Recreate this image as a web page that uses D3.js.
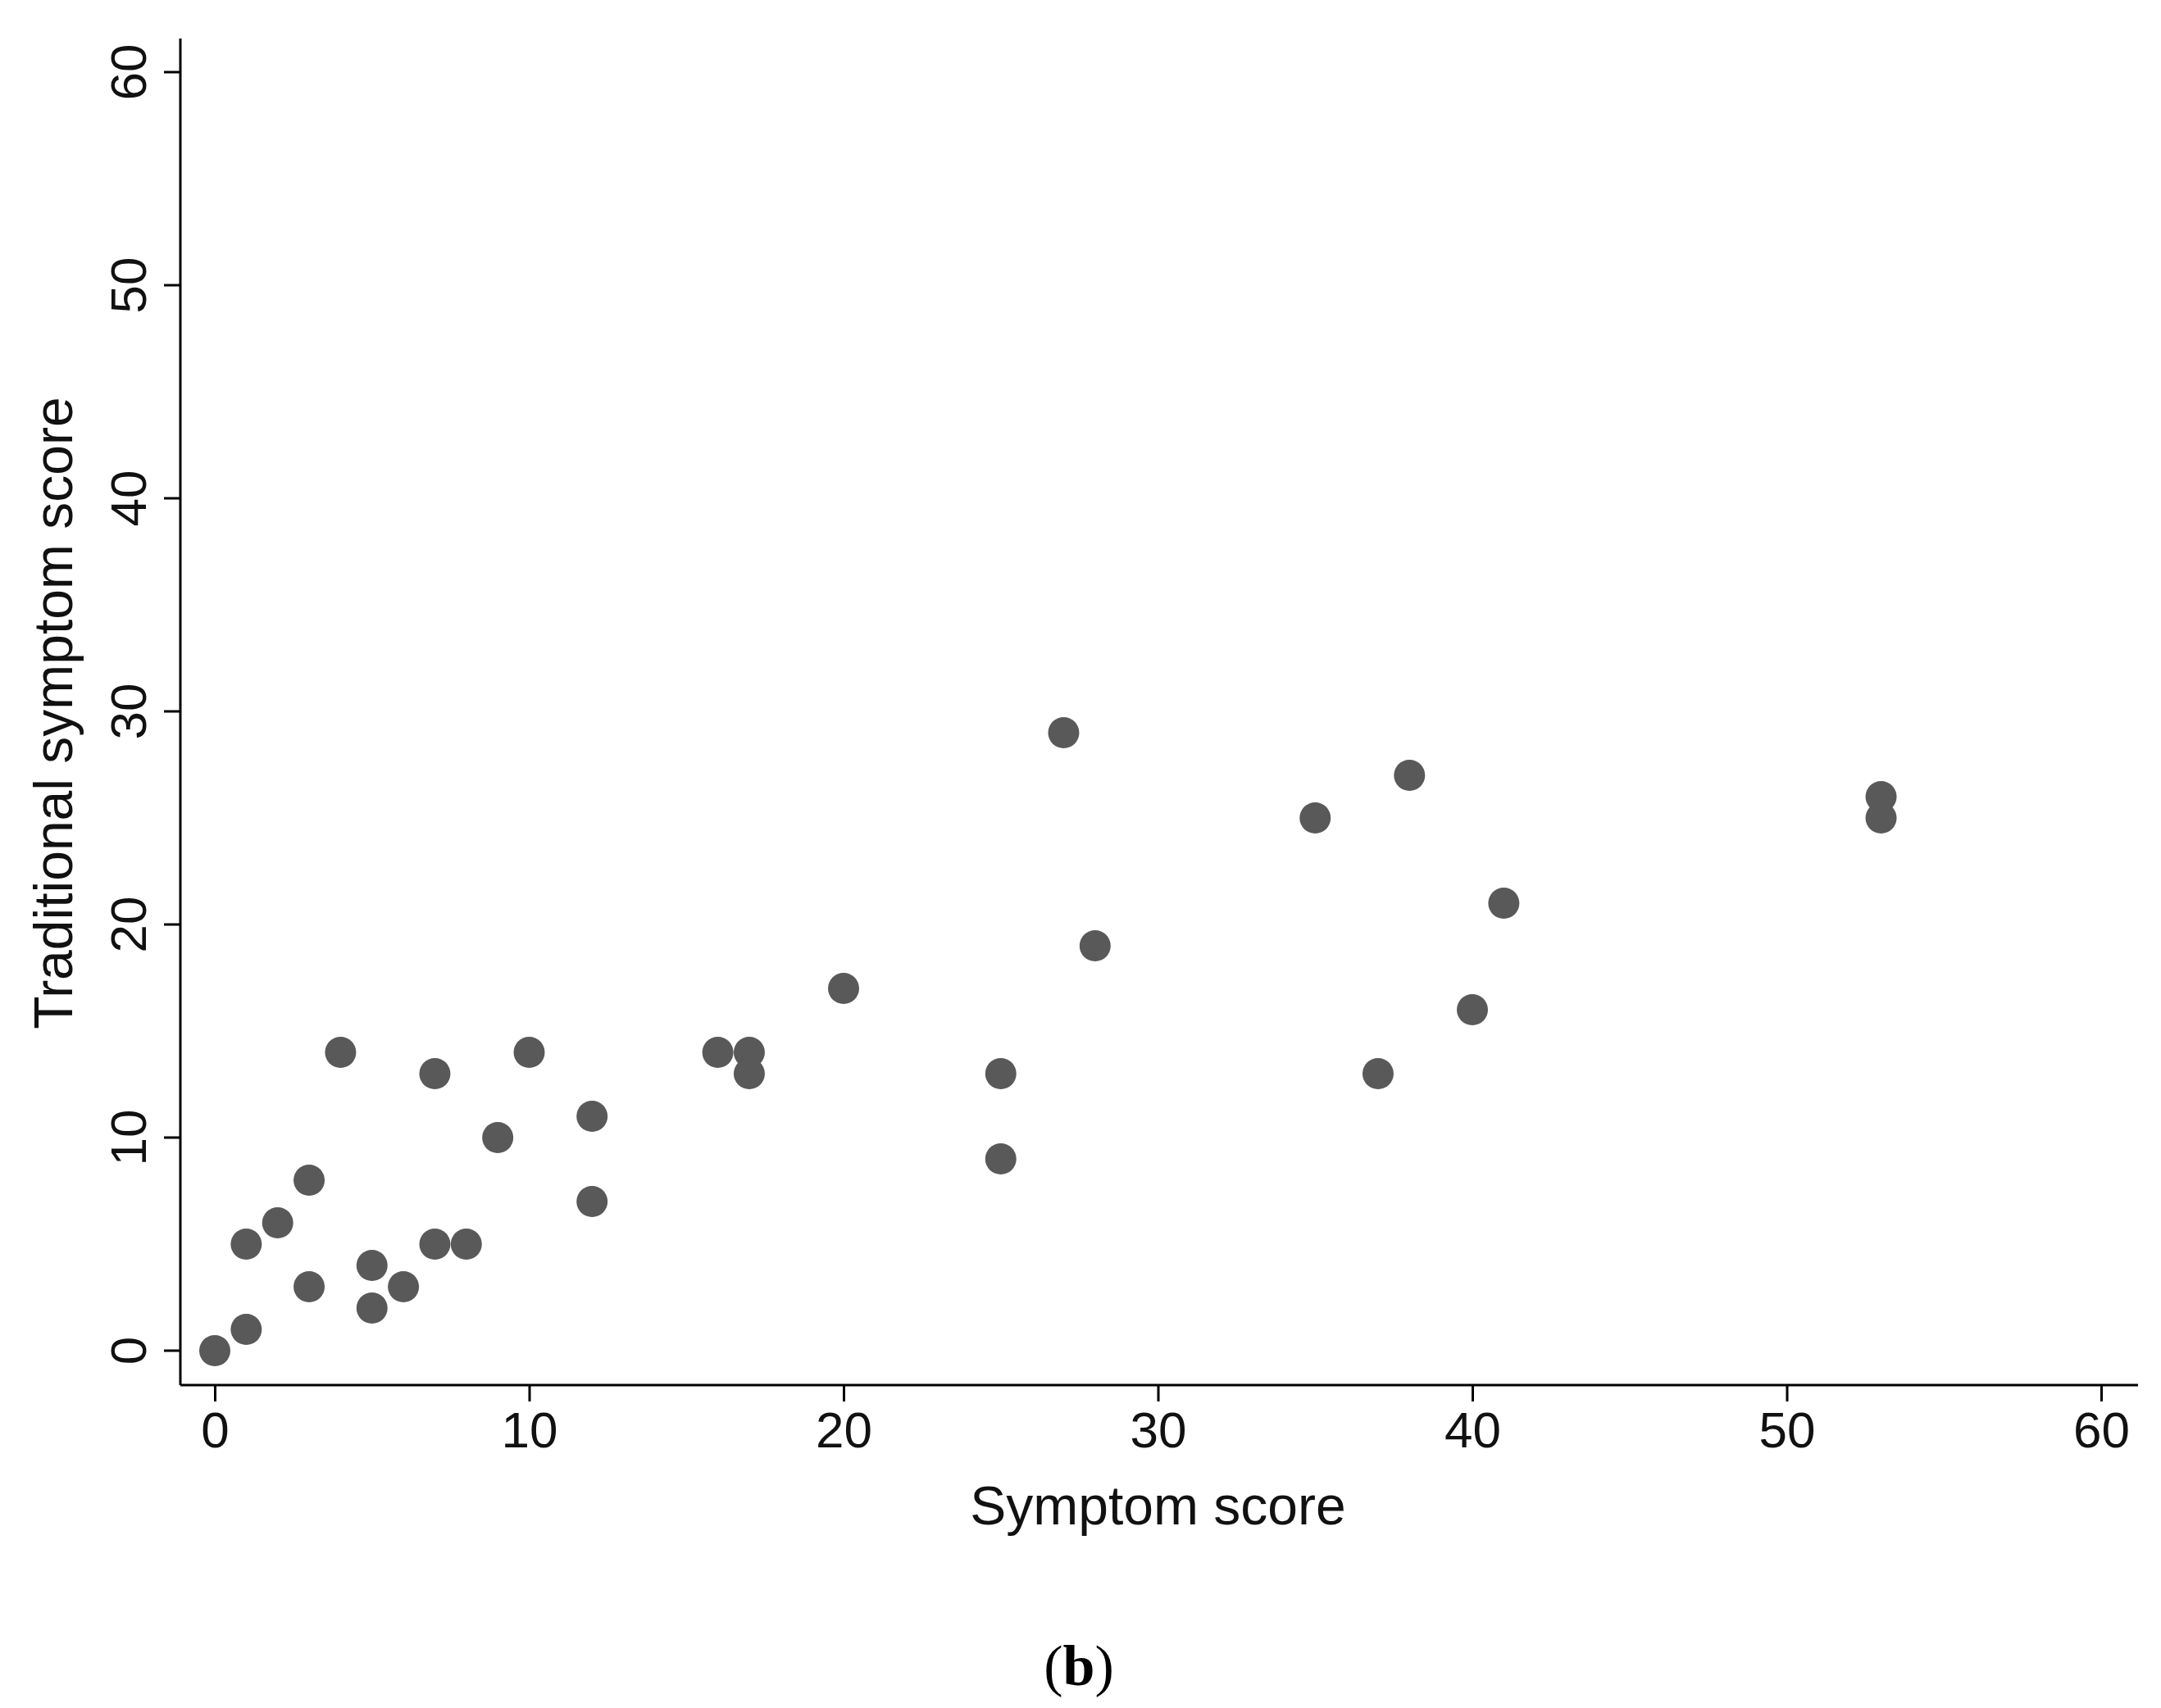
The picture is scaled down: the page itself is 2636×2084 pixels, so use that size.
<!DOCTYPE html>
<html>
<head>
<meta charset="utf-8">
<script src="https://cdn.jsdelivr.net/npm/d3@7"></script>
<style>
  body { margin: 0; background: #fff; }
  text { font-family: "Liberation Sans", Arial, sans-serif; }
</style>
</head>
<body>
<svg></svg>
<script>
// symptom score vs traditional symptom score
const symptom =     [0, 1, 1, 2, 3, 3, 4,  5, 5, 6, 7,  7, 8, 9,  10, 12, 12, 16, 17, 17, 20, 25, 25, 27, 28, 35, 37, 38, 40, 41, 53, 53];
const traditional = [0, 1, 5, 6, 8, 3, 14, 4, 2, 3, 13, 5, 5, 10, 14, 11, 7,  14, 14, 13, 17, 13, 9,  29, 19, 25, 13, 27, 16, 21, 26, 25];
const ticks = [0, 10, 20, 30, 40, 50, 60];

const w = 2636;
const h = 2084;

const svg = d3.select('svg')
    .attr("width", w)
    .attr("height", h)

const xScale = d3.scaleLinear().domain([0, 60]).range([262, 2563]);
const yScale = d3.scaleLinear().domain([0, 60]).range([1648, 88]);

const xAxis = d3.axisBottom(xScale).tickValues(ticks).tickSize(20).tickPadding(12).tickSizeOuter(0);
const yAxis = d3.axisLeft(yScale).tickValues(ticks).tickSize(20).tickPadding(12).tickSizeOuter(0);

const gx = svg.append("g")
    .attr("transform", "translate(0,1690)")
    .call(xAxis)
gx.select(".domain").attr("d", "M220,0H2608")

const gy = svg.append("g")
    .attr("transform", "translate(220,0)")
    .call(yAxis)
gy.select(".domain").attr("d", "M0,47V1690")

svg.selectAll(".tick line").attr("stroke", "#000").attr("stroke-width", 3)
svg.selectAll(".domain").attr("stroke", "#000").attr("stroke-width", 3)
svg.selectAll(".tick text").attr("font-size", 62).attr("fill", "#111")
gy.selectAll(".tick text")
    .attr("transform", function(d) { return "rotate(-90," + (-32) + "," + yScale(d) + ")"; })
    .attr("x", -40)
    .attr("dy", "0")
    .attr("text-anchor", "middle")
    .attr("y", (d) => yScale(d) + 0)
    .attr("dominant-baseline", "auto")
gy.selectAll(".tick").attr("transform", null)
gy.selectAll(".tick line").attr("y1", (d) => yScale(d)).attr("y2", (d) => yScale(d))
gy.selectAll(".tick text")
    .attr("x", -32)
    .attr("transform", (d) => "rotate(-90,-32," + yScale(d) + ")")
    .attr("y", (d) => yScale(d) - 10)

svg.append("text")
    .attr("x", (xScale(0) + xScale(60)) / 2)
    .attr("y", 1860)
    .attr("text-anchor", "middle")
    .attr("font-size", 66)
    .attr("fill", "#111")
    .text("Symptom score")

svg.append("text")
    .attr("transform", "translate(88," + 870 + ") rotate(-90)")
    .attr("text-anchor", "middle")
    .attr("font-size", 66)
    .attr("fill", "#111")
    .text("Traditional symptom score")

svg.append("text")
    .attr("x", 1316)
    .attr("y", 2056)
    .attr("text-anchor", "middle")
    .attr("font-size", 70)
    .style("font-family", "'Liberation Serif', 'Times New Roman', serif")
    .html('(<tspan font-weight="bold">b</tspan>)')

svg.selectAll(".dot")
    .data(symptom.map((s, i) => [s, traditional[i]]))
    .join("circle")
    .attr("class", "dot")
    .attr("r", 19)
    .attr("cx", (d) => xScale(d[0]))
    .attr("cy", (d) => yScale(d[1]))
    .attr("fill", "#595959")
</script>
</body>
</html>
